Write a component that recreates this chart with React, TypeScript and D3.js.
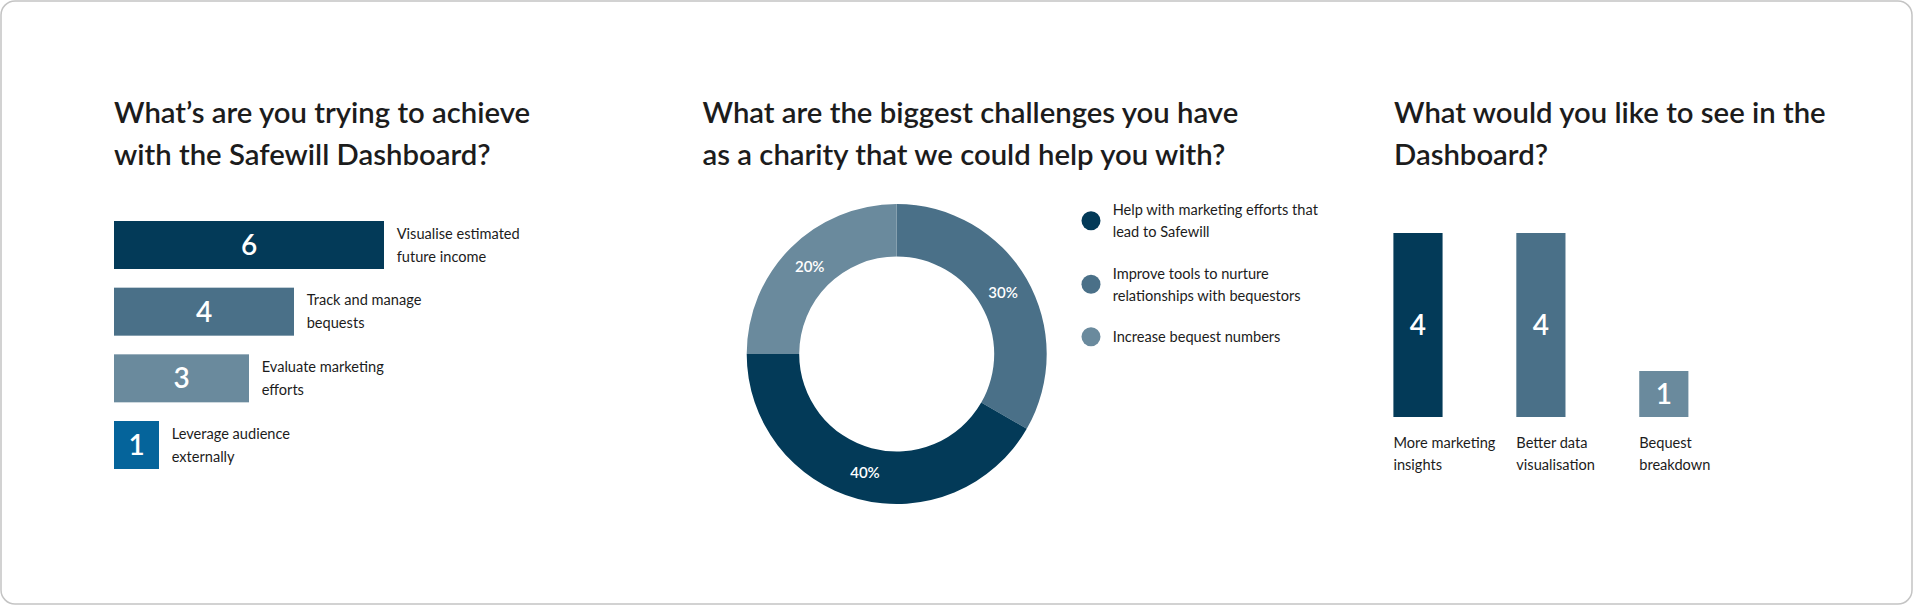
import React from "react";
import * as d3 from "d3";

// ---------- DATA ----------
const goalCategories = [
  ["Visualise estimated", "future income"],
  ["Track and manage", "bequests"],
  ["Evaluate marketing", "efforts"],
  ["Leverage audience", "externally"],
];
const goalValues = [6, 4, 3, 1];

const challengeLegend = [
  ["Help with marketing efforts that", "lead to Safewill"],
  ["Improve tools to nurture", "relationships with bequestors"],
  ["Increase bequest numbers"],
];
// arc shares as drawn in the picture (angles), and the printed labels
const challengeShares = [33.3, 41.7, 25];
const challengeLabels = ["30%", "40%", "20%"];

const wishCategories = [
  ["More marketing", "insights"],
  ["Better data", "visualisation"],
  ["Bequest", "breakdown"],
];
const wishValues = [4, 4, 1];

const titles = [
  ["What\u2019s are you trying to achieve", "with the Safewill Dashboard?"],
  ["What are the biggest challenges you have", "as a charity that we could help you with?"],
  ["What would you like to see in the", "Dashboard?"],
];

// ---------- STYLE ----------
const W = 1913;
const H = 605;
const FONT = "Lato, 'Open Sans', sans-serif";
const DARK = "#033a58";
const MID = "#4a7088";
const LIGHT = "#6a8a9d";
const BRIGHT = "#05649b";
const TEXT = "#1c1c1c";
const goalColors = [DARK, MID, LIGHT, BRIGHT];
const pieColors = [MID, DARK, LIGHT];
const legendColors = [DARK, MID, LIGHT];
const wishColors = [DARK, MID, LIGHT];

function Title({ x, lines }: { x: number; lines: string[] }) {
  return (
    <text x={x} y={123} fontFamily={FONT} fontSize={29.3} fontWeight={600} fill={TEXT}>
      {lines.map((l, i) => (
        <tspan key={i} x={x} y={123 + i * 41.5}>
          {l}
        </tspan>
      ))}
    </text>
  );
}

export default function App() {
  // left: horizontal bars
  const gx = d3.scaleLinear().domain([0, 6]).range([114, 384]);
  const gy = d3
    .scaleBand<number>()
    .domain(d3.range(goalValues.length))
    .range([221, 469])
    .paddingInner(0.28)
    .paddingOuter(0);

  // middle: donut
  const cx = 896.7;
  const cy = 354;
  const pie = d3
    .pie<number>()
    .sort(null)
    .value((d) => d);
  const arcs = pie(challengeShares);
  const arc = d3.arc<d3.PieArcDatum<number>>().innerRadius(97.5).outerRadius(150);
  const labelArc = d3.arc<d3.PieArcDatum<number>>().innerRadius(123).outerRadius(123);

  // right: vertical bars
  const wx = d3
    .scaleBand<number>()
    .domain(d3.range(wishValues.length))
    .range([1393.4, 1688.4])
    .paddingInner(0.6)
    .paddingOuter(0);
  const wy = d3.scaleLinear().domain([0, 4]).range([417, 233]);

  return (
    <div style={{ position: "absolute", left: 0, top: 0 }}>
      <svg width={W} height={H} style={{ display: "block" }}>
        <rect x={1} y={1} width={W - 2} height={H - 2} rx={14} ry={14} fill="#fff" stroke="#c4c4c4" strokeWidth={1.5} />

        {/* Left chart */}
        <Title x={114} lines={titles[0]} />
        {goalValues.map((v, i) => {
          const y0 = gy(i)!;
          const bw = gy.bandwidth();
          const x1 = gx(v);
          return (
            <g key={i}>
              <rect x={gx(0)} y={y0} width={x1 - gx(0)} height={bw} fill={goalColors[i]} />
              <text
                x={(gx(0) + x1) / 2}
                y={y0 + bw / 2}
                dy="0.36em"
                textAnchor="middle"
                fontFamily={FONT}
                fontSize={28}
                fontWeight={600}
                fill="#fff"
              >
                {v}
              </text>
              <text fontFamily={FONT} fontSize={14.6} fill={TEXT}>
                {goalCategories[i].map((l, j) => (
                  <tspan key={j} x={x1 + 12.7} y={y0 + 17.5 + j * 23}>
                    {l}
                  </tspan>
                ))}
              </text>
            </g>
          );
        })}

        {/* Middle chart */}
        <Title x={702.5} lines={titles[1]} />
        <g transform={`translate(${cx},${cy})`}>
          {arcs.map((a, i) => (
            <path key={i} d={arc(a)!} fill={pieColors[i]} />
          ))}
          {arcs.map((a, i) => {
            const [lx, ly] = labelArc.centroid(a);
            return (
              <text
                key={"l" + i}
                x={lx}
                y={ly}
                dy="0.36em"
                textAnchor="middle"
                fontFamily={FONT}
                fontSize={15}
                fontWeight={600}
                fill="#fff"
              >
                {challengeLabels[i]}
              </text>
            );
          })}
        </g>
        {challengeLegend.map((lines, i) => {
          const cyL = [220.7, 284.3, 336.8][i];
          const n = lines.length;
          return (
            <g key={i}>
              <circle cx={1091} cy={cyL} r={9.5} fill={legendColors[i]} />
              <text fontFamily={FONT} fontSize={14.6} fill={TEXT}>
                {lines.map((l, j) => (
                  <tspan key={j} x={1112.7} y={cyL + 5.5 - ((n - 1) * 22.5) / 2 + j * 22.5}>
                    {l}
                  </tspan>
                ))}
              </text>
            </g>
          );
        })}

        {/* Right chart */}
        <Title x={1394} lines={titles[2]} />
        {wishValues.map((v, i) => {
          const x0 = wx(i)!;
          const bw = wx.bandwidth();
          return (
            <g key={i}>
              <rect x={x0} y={wy(v)} width={bw} height={wy(0) - wy(v)} fill={wishColors[i]} />
              <text
                x={x0 + bw / 2}
                y={(wy(v) + wy(0)) / 2}
                dy="0.36em"
                textAnchor="middle"
                fontFamily={FONT}
                fontSize={28}
                fontWeight={600}
                fill="#fff"
              >
                {v}
              </text>
              <text fontFamily={FONT} fontSize={14.6} fill={TEXT}>
                {wishCategories[i].map((l, j) => (
                  <tspan key={j} x={x0} y={447.6 + j * 22.5}>
                    {l}
                  </tspan>
                ))}
              </text>
            </g>
          );
        })}
      </svg>
    </div>
  );
}
